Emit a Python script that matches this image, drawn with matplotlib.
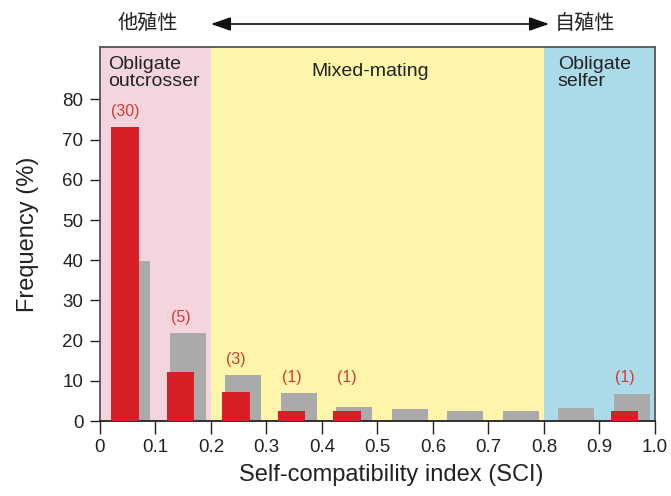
import matplotlib
matplotlib.use("Agg")
import matplotlib.pyplot as plt
import numpy as np

plt.rcParams['font.family'] = ['Liberation Sans', 'Noto Sans CJK JP', 'DejaVu Sans']

# SCI bins (left edges) and frequencies
bin_left = [0.0, 0.1, 0.2, 0.3, 0.4, 0.5, 0.6, 0.7, 0.8, 0.9]
species_counts = [30, 5, 3, 1, 1, 0, 0, 0, 0, 1]
reference_freq = [39.8, 21.9, 11.4, 7.0, 3.5, 3.1, 2.5, 2.5, 3.3, 6.8]

region_edges = [0.0, 0.2, 0.8, 1.0]
region_names = ["Obligate\noutcrosser", "Mixed-mating", "Obligate\nselfer"]
region_colors = ["#f4d5de", "#fdf5a9", "#abdbe8"]

y_ticks = [0, 10, 20, 30, 40, 50, 60, 70, 80]
x_ticks = [0, 0.1, 0.2, 0.3, 0.4, 0.5, 0.6, 0.7, 0.8, 0.9, 1.0]
x_ticklabels = ["0", "0.1", "0.2", "0.3", "0.4", "0.5", "0.6", "0.7", "0.8", "0.9", "1.0"]

total = sum(species_counts)
species_freq = [c / total * 100 for c in species_counts]

fig = plt.figure(figsize=(6.71, 4.96), dpi=100)
ax = fig.add_axes([0.149, 0.151, 0.827, 0.754])

# background regions
for i, name in enumerate(region_names):
    ax.axvspan(region_edges[i], region_edges[i + 1], color=region_colors[i], zorder=0, lw=0)

left = np.array(bin_left)
ax.bar(left + 0.026, reference_freq, width=0.065, align='edge', color="#aaaaaa", zorder=2, lw=0)
ax.bar(left + 0.020, species_freq, width=0.050, align='edge', color="#d71f28", zorder=3, lw=0)

# species count labels
for x, c, f, g in zip(left, species_counts, species_freq, reference_freq):
    if c > 0:
        y = max(max(f, g) + 3.8, 10.9)
        ax.text(x + 0.045, y, f"({c})", color="#d43a35", fontsize=11.5,
                ha='center', va='center', zorder=4)

# region names
ax.text(0.015, 90.9, region_names[0], ha='left', va='top', fontsize=14,
        color="#222222", linespacing=1.0)
ax.text(0.487, 87.0, region_names[1], ha='center', va='center', fontsize=14, color="#222222")
ax.text(0.825, 90.9, region_names[2], ha='left', va='top', fontsize=14,
        color="#222222", linespacing=1.0)

ax.set_xlim(0, 1.0)
ax.set_ylim(0, 93.0)
ax.set_yticks(y_ticks)
ax.set_xticks(x_ticks)
ax.set_xticklabels(x_ticklabels)
ax.tick_params(axis='both', labelsize=13.5, colors="#222222", direction='out')
ax.tick_params(axis='x', length=9, width=1.0, pad=4)
ax.tick_params(axis='y', length=7, width=1.0, pad=5)

for side in ['top', 'right']:
    ax.spines[side].set_color("#555555")
    ax.spines[side].set_linewidth(1.3)
ax.spines['left'].set_color("#555555")
ax.spines['left'].set_linewidth(1.3)
ax.spines['bottom'].set_color("#222222")
ax.spines['bottom'].set_linewidth(1.3)

ax.set_xlabel("Self-compatibility index (SCI)", fontsize=17, color="#222222", labelpad=6)
ax.xaxis.label.set_x(0.525)
ax.set_ylabel("Frequency (%)", fontsize=17, color="#222222", labelpad=17)

# header: outcrossing <-> selfing
fig.text(148 / 671, 1 - 23 / 496, "他殖性", ha='center', va='center', fontsize=14.5,
         family=['Noto Sans CJK JP'], color="#222222")
fig.text(585 / 671, 1 - 23 / 496, "自殖性", ha='center', va='center', fontsize=14.5,
         family=['Noto Sans CJK JP'], color="#222222")
fig.add_artist(matplotlib.patches.FancyArrowPatch(
    (211 / 671, 1 - 24 / 496), (549 / 671, 1 - 24 / 496), transform=fig.transFigure,
    arrowstyle='<|-|>,head_length=1.0,head_width=0.35', mutation_scale=12,
    color="#111111", lw=1.2, shrinkA=0, shrinkB=0))

fig.savefig("out.png", dpi=100)
